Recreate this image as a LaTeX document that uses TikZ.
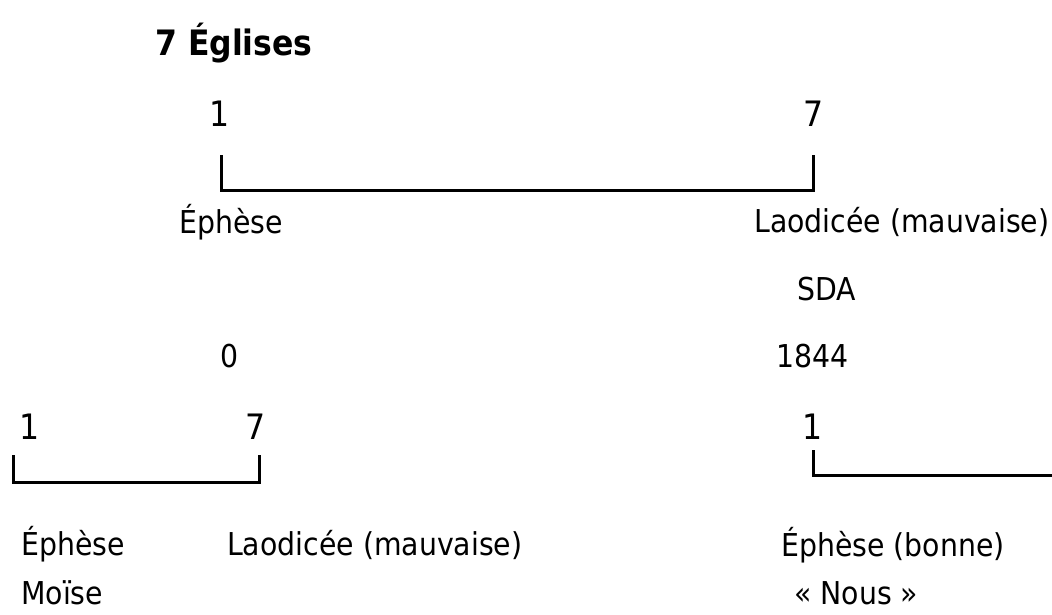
\documentclass[tikz,border=0pt]{standalone}
\usepackage{fontspec}
\setmainfont{DejaVu Sans}[FakeStretch=0.9]
\usetikzlibrary{positioning}
\tikzstyle{ttl}=[inner sep=0pt,anchor=base west,font=\bfseries\fontsize{35}{40}\selectfont]
\tikzstyle{num}=[inner sep=0pt,anchor=base west,font=\fontsize{35}{40}\selectfont]
\tikzstyle{txt}=[inner sep=0pt,text depth=0pt,anchor=base west,font=\fontsize{31.5}{36}\selectfont]
\tikzstyle{brk}=[line width=3pt]

\begin{document}
\begin{tikzpicture}[
      x=1pt,y=-1pt
    ]
     \useasboundingbox (0,0) rectangle (1052,614);

     % upper scale
     \node [ttl] (title) at (155,55) {7 Églises};
     \node [num] (t1) at (209,126) {1};
     \node [num] (t7) at (803,126) {7};
     \coordinate (ta) at (221,155);
     \coordinate (tb) at (813,155);
     \node [txt] (ephA) at (179,233) {Éphèse};
     \node [txt] (laoA) at (754,232) {Laodicée (mauvaise)};
     \node [txt] (sda) at (797,300) {SDA};
     \node [txt] (zero) at (220,367) {0};
     \node [txt] (y1844) at (776,367) {1844};

     % lower scales
     \node [num] (b1) at (19,439) {1};
     \node [num] (b7) at (245,439) {7};
     \coordinate (ba) at (13,455);
     \coordinate (bb) at (259,455);
     \node [num] (c1) at (802,439) {1};
     \coordinate (ca) at (813,450);
     \coordinate (cb) at (1052,475);
     \node [txt] (ephB) at (21,555) {Éphèse};
     \node [txt] (laoB) at (227,555) {Laodicée (mauvaise)};
     \node [txt] (moise) at (21,604) {Moïse};
     \node [txt] (ephC) at (781,556) {Éphèse (bonne)};
     \node [txt] (nous) at (794,604) {« Nous »};

      \draw[brk] (ta) -- ++(0,35) -| (tb);
      \draw[brk] (ba) -- ++(0,27) -| (bb);
      \draw[brk] (ca) |- (cb);
    \end{tikzpicture}
\end{document}
